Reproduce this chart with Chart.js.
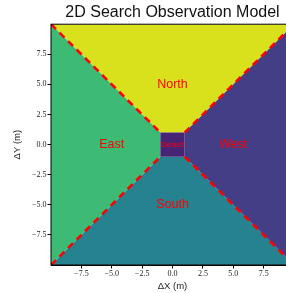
<!DOCTYPE html>
<html>
<head>
<meta charset="utf-8">
<script src="https://cdn.jsdelivr.net/npm/chart.js@4"></script>
<style>
html,body{margin:0;padding:0;background:#fff;overflow:hidden;}
canvas{display:block;}
</style>
</head>
<body>
<canvas id="c" width="300" height="293" style="width:300px;height:293px"></canvas>
<script>
// Region polygons (data coordinates, metres)
const northPts = [[-10,10],[10,10],[1,1],[-1,1]];
const southPts = [[-10,-10],[10,-10],[1,-1],[-1,-1]];
const eastPts  = [[-10,10],[-1,1],[-1,-1],[-10,-10]];
const westPts  = [[10,10],[1,1],[1,-1],[10,-10]];
const detectPts = [[-1,-1],[1,-1],[1,1],[-1,1]];
// Boundary lines
const boundaryLines = [
  [[-10,10],[-1,1]],
  [[1,1],[10,10]],
  [[-10,-10],[-1,-1]],
  [[1,-1],[10,-10]]
];
// Region labels
const labelText = ['North','East','West','South'];
const labelX = [0,-5,5,0];
const labelY = [5,0,0,-5];
const detectLabel = 'Detect';
// Axis
const axisMin = -10, axisMax = 10;
const tickValues = [-7.5,-5,-2.5,0,2.5,5,7.5];

const toXY = pts => pts.map(p => ({x:p[0], y:p[1]}));
function poly(pts, color, order){
  return {data: toXY(pts), showLine:true, fill:'shape', backgroundColor:color,
          borderWidth:0, borderColor:color, pointRadius:0, tension:0, order:order};
}
const datasets = [
  poly(eastPts,'#3dbb74',10),
  poly(westPts,'#433e85',10),
  poly(northPts,'#d8e11b',10),
  poly(southPts,'#26828e',10),
  poly(detectPts,'#482475',5)
];
boundaryLines.forEach(l => datasets.push({
  data: toXY(l), showLine:true, fill:false, borderColor:'#ff0000', borderWidth:2.6,
  borderDash:[7,5], pointRadius:0, tension:0, order:1
}));

const fmt = v => (v < 0 ? '\u2212' : '') + Math.abs(v).toFixed(1);

const textPlugin = {
  id:'regionText',
  afterDatasetsDraw(chart){
    const {ctx, scales:{x, y}} = chart;
    ctx.save();
    ctx.fillStyle = '#ff0000';
    ctx.textAlign = 'center';
    ctx.textBaseline = 'middle';
    ctx.font = '12.5px "Liberation Sans"';
    labelText.forEach((t,i) => ctx.fillText(t, x.getPixelForValue(labelX[i]), y.getPixelForValue(labelY[i])));
    ctx.font = '8px "Liberation Sans"';
    ctx.fillText(detectLabel, x.getPixelForValue(0), y.getPixelForValue(0));
    ctx.restore();
  },
  afterDraw(chart){
    const {ctx, chartArea:a} = chart;
    ctx.save();
    ctx.strokeStyle = '#000';
    ctx.lineWidth = 1;
    ctx.strokeRect(a.left, a.top, a.right - a.left, a.bottom - a.top);
    ctx.restore();
  }
};

const tickFont = {family:'"Liberation Serif"', size:8};
const titleFont = {family:'"Liberation Sans"', size:9.5};

new Chart(document.getElementById('c'), {
  type:'scatter',
  data:{datasets},
  options:{
    responsive:false, animation:false, events:[],
    devicePixelRatio:1,
    layout:{padding:{right:6, left:0, top:0, bottom:0}},
    plugins:{
      legend:{display:false}, tooltip:{enabled:false},
      title:{display:true, text:'2D Search Observation Model', color:'#111', fullSize:false,
        font:{family:'"Liberation Sans"', size:16, weight:'normal'}, padding:{top:3,bottom:2}}
    },
    scales:{
      x:{type:'linear', min:axisMin, max:axisMax,
        afterBuildTicks: s => { s.ticks = tickValues.map(v => ({value:v})); },
        afterFit: s => { s.height = 28; },
        ticks:{callback: v => fmt(v), font:tickFont, color:'#222', padding:1, maxRotation:0, autoSkip:false},
        grid:{drawOnChartArea:false, drawTicks:true, tickLength:3.5, color:'#000'},
        border:{display:true, color:'#000', width:1},
        title:{display:true, text:'\u0394X (m)', font:titleFont, color:'#222', padding:{top:0,bottom:1}}
      },
      y:{type:'linear', min:axisMin, max:axisMax,
        afterBuildTicks: s => { s.ticks = tickValues.map(v => ({value:v})); },
        afterFit: s => { s.width = 51; },
        ticks:{callback: v => fmt(v), font:tickFont, color:'#222', padding:1, autoSkip:false},
        grid:{drawOnChartArea:false, drawTicks:true, tickLength:3.5, color:'#000'},
        border:{display:true, color:'#000', width:1},
        title:{display:true, text:'\u0394Y (m)', font:titleFont, color:'#222', padding:{top:12,bottom:0}}
      }
    }
  },
  plugins:[textPlugin]
});
</script>
</body>
</html>
